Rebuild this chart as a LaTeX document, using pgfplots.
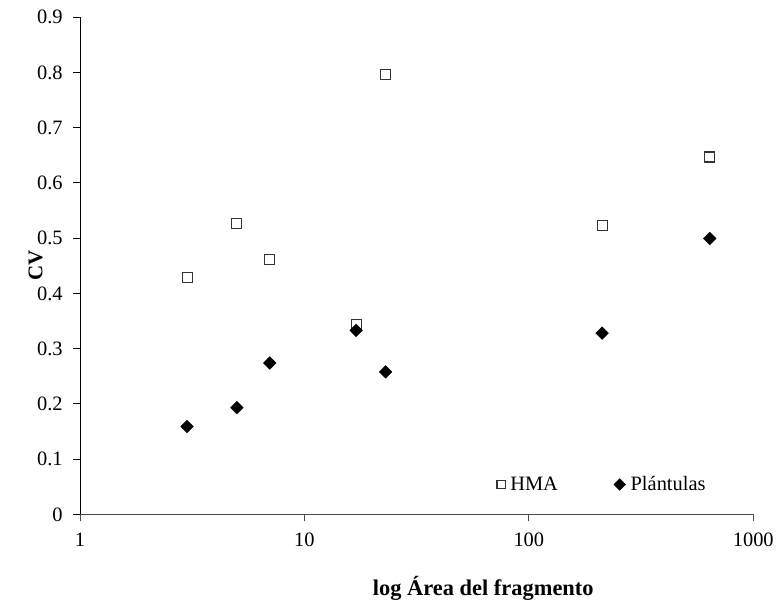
\documentclass[border=0pt]{standalone}
\usepackage{fontspec}
\setmainfont{Liberation Serif}
\usepackage{pgfplots}
\pgfplotsset{compat=1.18}
\begin{document}
\begin{tikzpicture}
\begin{axis}[
  scale only axis, width=675.4pt, height=498.7pt,
  xmode=log, xmin=1, xmax=1000, ymin=0, ymax=0.9,
  xtick={1,10,100,1000}, xticklabels={1,10,100,1000},
  xminorticks=false,
  ytick={0,0.1,0.2,0.3,0.4,0.5,0.6,0.7,0.8,0.9},
  yticklabels={0,0.1,0.2,0.3,0.4,0.5,0.6,0.7,0.8,0.9},
  axis x line*=bottom, axis y line*=left,
  x axis line style={-, line width=0.9pt, black!70},
  y axis line style={-, line width=0.9pt, black},
  tick align=outside, major tick length=7pt,
  xtick style={line width=0.9pt, black!70},
  ytick style={line width=0.9pt, black},
  ticklabel style={font=\fontsize{20.5}{24}\selectfont},
  xticklabel style={yshift=-8pt},
  yticklabel style={xshift=-7pt},
  ylabel={\textbf{CV}},
  ylabel style={font=\fontsize{21}{24}\selectfont, at={(axis description cs:-0.066,0.5)}, anchor=center, rotate=0},
  xlabel={\textbf{log Área del fragmento}},
  xlabel style={font=\fontsize{22.5}{26}\selectfont, at={(axis description cs:0.599,-0.149)}, anchor=center},
  legend style={draw=none, fill=none, at={(axis description cs:0.619,0.06)}, anchor=west,
    font=\fontsize{20.5}{24}\selectfont, legend columns=2,
    /tikz/every odd column/.append style={column sep=3pt},
    /tikz/every even column/.append style={column sep=54pt},
    inner sep=0pt},
  legend cell align=left,
  clip=false,
]
\addplot[only marks, mark=square, mark size=5pt, mark options={draw=black!80, fill=white, line width=1.1pt},
  legend image post style={mark size=4.2pt}]
  coordinates {(3,0.428) (5,0.527) (7,0.462) (17,0.343) (23,0.797) (212,0.523) (640,0.647)};
\addlegendentry{HMA}
\addplot[only marks, mark=square*, mark size=4.5pt, mark options={rotate=45, draw=black, fill=black},
  legend image post style={mark size=4.2pt}]
  coordinates {(3,0.159) (5,0.193) (7,0.274) (17,0.333) (23,0.258) (212,0.328) (640,0.4995)};
\addlegendentry{Plántulas}
\end{axis}
\path ([shift={(-80.3pt,-88pt)}]current axis.south west) rectangle ++(777pt,604pt);
\end{tikzpicture}
\end{document}
